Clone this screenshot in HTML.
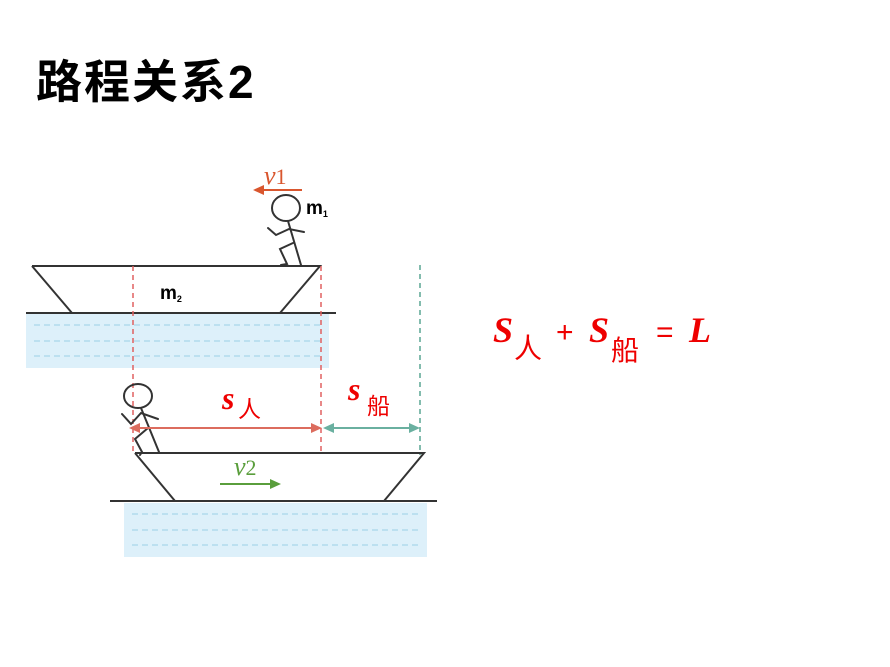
<!DOCTYPE html>
<html><head><meta charset="utf-8"><style>
html,body{margin:0;padding:0;background:#fff;}
svg{display:block;}
</style></head><body>
<svg width="890" height="667" viewBox="0 0 890 667" xmlns="http://www.w3.org/2000/svg">
<text x="36" y="98" font-family="Liberation Sans, Noto Sans CJK SC, sans-serif" font-weight="bold" font-size="46" letter-spacing="2" fill="#000">路程关系2</text>

<rect x="26" y="314" width="303" height="54" fill="#ddf0fa"/>
<g stroke="#a9d6ea" stroke-width="1.2" stroke-dasharray="6,4">
<line x1="34" y1="325" x2="322" y2="325"/><line x1="34" y1="341" x2="322" y2="341"/><line x1="34" y1="356" x2="322" y2="356"/>
</g>
<g stroke="#333" stroke-width="2" fill="none">
<polyline points="32,266 320,266 280,313"/>
<line x1="32" y1="266" x2="72" y2="313"/>
<line x1="26" y1="313" x2="336" y2="313"/>
</g>
<rect x="124" y="503" width="303" height="54" fill="#ddf0fa"/>
<g stroke="#a9d6ea" stroke-width="1.2" stroke-dasharray="6,4">
<line x1="132" y1="514" x2="420" y2="514"/><line x1="132" y1="530" x2="420" y2="530"/><line x1="132" y1="545" x2="420" y2="545"/>
</g>
<g stroke="#333" stroke-width="2" fill="none">
<polyline points="135,453 424,453 384,501"/>
<line x1="135" y1="453" x2="175" y2="501"/>
<line x1="110" y1="501" x2="437" y2="501"/>
</g>

<g stroke-width="1.5" stroke-dasharray="5,4" fill="none">
<line x1="133" y1="266" x2="133" y2="455" stroke="#e06060"/>
<line x1="321" y1="266" x2="321" y2="455" stroke="#e06060"/>
<line x1="420" y1="265" x2="420" y2="455" stroke="#5aa593"/>
</g>

<g stroke="#333" stroke-width="2" fill="none" stroke-linecap="round">
<ellipse cx="286" cy="208" rx="14" ry="13"/>
<line x1="288" y1="221" x2="301" y2="265"/>
<polyline points="268,228 276,235 289,229 304,232"/>
<polyline points="293,243 280,249 287,264 281,265"/>
</g>
<g stroke="#333" stroke-width="2" fill="none" stroke-linecap="round">
<ellipse cx="138" cy="396" rx="14" ry="12"/>
<line x1="141" y1="408" x2="159" y2="452"/>
<polyline points="122,414 131,424 141,413 158,419"/>
<polyline points="148,428 135,439 142,452 140,455"/>
<line x1="140" y1="453" x2="175" y2="453"/>
</g>

<line x1="302" y1="190" x2="262" y2="190" stroke="#d9562e" stroke-width="2"/>
<polygon points="253,190 264,185 264,195" fill="#d9562e"/>
<text x="264" y="184" font-family="Liberation Serif, serif" font-style="italic" font-size="26" fill="#d9562e">v<tspan font-style="normal" font-size="22">1</tspan></text>
<text x="306" y="214" font-family="Liberation Sans, sans-serif" font-weight="bold" font-size="19" fill="#000">m<tspan font-size="9" dy="3">1</tspan></text>
<text x="160" y="299" font-family="Liberation Sans, sans-serif" font-weight="bold" font-size="19" fill="#000">m<tspan font-size="9" dy="3">2</tspan></text>

<line x1="138" y1="428" x2="313" y2="428" stroke="#dc6c5e" stroke-width="2"/>
<polygon points="129,428 140,423 140,433" fill="#dc6c5e"/>
<polygon points="322,428 311,423 311,433" fill="#dc6c5e"/>
<line x1="332" y1="428" x2="411" y2="428" stroke="#6ab0a0" stroke-width="2"/>
<polygon points="323,428 334,423 334,433" fill="#6ab0a0"/>
<polygon points="420,428 409,423 409,433" fill="#6ab0a0"/>
<text x="222" y="409" font-family="Liberation Serif, serif" font-style="italic" font-weight="bold" font-size="32" fill="#e00">s</text>
<text x="238" y="417" font-family="Liberation Sans, Noto Sans CJK SC, sans-serif" font-size="23" fill="#e00">人</text>
<text x="348" y="400" font-family="Liberation Serif, serif" font-style="italic" font-weight="bold" font-size="32" fill="#e00">s</text>
<text x="367" y="414" font-family="Liberation Sans, Noto Sans CJK SC, sans-serif" font-size="23" fill="#e00">船</text>

<line x1="220" y1="484" x2="272" y2="484" stroke="#5a9e3c" stroke-width="2"/>
<polygon points="281,484 270,479 270,489" fill="#5a9e3c"/>
<text x="234" y="475" font-family="Liberation Serif, serif" font-style="italic" font-size="26" fill="#5a9e3c">v<tspan font-style="normal" font-size="22">2</tspan></text>

<text x="493" y="342" font-family="Liberation Serif, serif" font-style="italic" font-weight="bold" font-size="36" fill="#e00">S</text>
<text x="514" y="358" font-family="Liberation Sans, Noto Sans CJK SC, sans-serif" font-size="28" fill="#e00">人</text>
<text x="556" y="342" font-family="Liberation Sans, sans-serif" font-size="30" fill="#e00">+</text>
<text x="589" y="342" font-family="Liberation Serif, serif" font-style="italic" font-weight="bold" font-size="36" fill="#e00">S</text>
<text x="611" y="360" font-family="Liberation Sans, Noto Sans CJK SC, sans-serif" font-size="28" fill="#e00">船</text>
<text x="656" y="342" font-family="Liberation Sans, sans-serif" font-size="30" fill="#e00">=</text>
<text x="689" y="342" font-family="Liberation Serif, serif" font-style="italic" font-weight="bold" font-size="36" fill="#e00">L</text>
</svg>
</body></html>
